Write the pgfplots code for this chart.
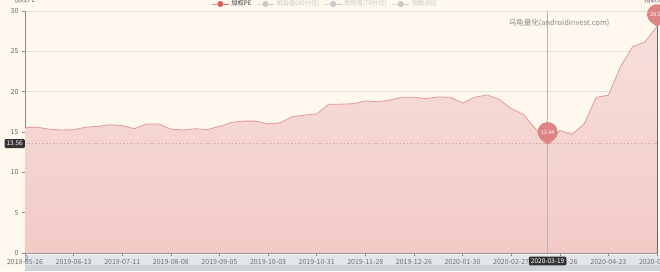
\documentclass[border=0pt]{standalone}
\usepackage{pgfplots}
\pgfplotsset{compat=1.18}
\usepackage{pgfplotstable}
\usepackage{fontspec}
\setmainfont{Noto Sans CJK SC}
\definecolor{bg}{HTML}{FEF8EE}
\definecolor{linec}{HTML}{E39A97}
\definecolor{areatop}{HTML}{F7DFDB}
\definecolor{areabot}{HTML}{F2CAC6}
\definecolor{gridc}{HTML}{E6E1D8}
\definecolor{labelc}{HTML}{6E6E6E}
\definecolor{axisc}{HTML}{8A8A8A}
\definecolor{pinc}{HTML}{DE8482}
\definecolor{dashc}{HTML}{D8A9A6}
\definecolor{boxc}{HTML}{333333}
\definecolor{crossc}{HTML}{B8B4AE}
\definecolor{legred}{HTML}{D9625E}
\definecolor{leggrey}{HTML}{C8C8C8}
\definecolor{zoombg}{HTML}{E2E5E9}
\definecolor{zoomdark}{HTML}{CFD3D8}
\definecolor{handle}{HTML}{A9C1E2}
\pgfdeclareplotmark{pin}{%
  \pgfpathmoveto{\pgfpointorigin}%
  \pgfpathlineto{\pgfpoint{-6pt}{4.5pt}}%
  \pgfpatharc{233.13}{-53.13}{10pt}%
  \pgfpathclose
  \pgfusepathqfill
}
\pgfplotstableread{
i pe
0 15.55
1 15.6
2 15.35
3 15.25
4 15.28
5 15.6
6 15.7
7 15.9
8 15.8
9 15.4
10 16.0
11 16.0
12 15.35
13 15.25
14 15.4
15 15.3
16 15.7
17 16.2
18 16.35
19 16.35
20 16.0
21 16.15
22 16.9
23 17.1
24 17.25
25 18.45
26 18.45
27 18.5
28 18.85
29 18.75
30 18.95
31 19.3
32 19.3
33 19.15
34 19.35
35 19.3
36 18.6
37 19.3
38 19.6
39 19.05
40 17.9
41 17.2
42 15.4
43 13.44
44 15.2
45 14.7
46 16.0
47 19.3
48 19.55
49 23.1
50 25.6
51 26.15
52 28.05
}\pe
\begin{document}
\begin{tikzpicture}[x=1pt,y=1pt]
\fill[bg] (0,0) rectangle (660,271);
\useasboundingbox (0,0) rectangle (660,271);
\fill[zoombg] (25,0) rectangle (660,16);
\fill[zoomdark] (25,0) rectangle (660,6);
\fill[handle] (25,9) rectangle (28,16);
\begin{axis}[
  at={(25pt,18pt)}, anchor=south west,
  width=632pt, height=242pt, scale only axis,
  xmin=0, xmax=52, ymin=0, ymax=30,
  clip=false,
  axis x line*=bottom, axis y line*=left,
  x axis line style={draw=axisc, line width=0.6pt, -},
  y axis line style={draw=axisc, line width=0.6pt, -},
  tick align=outside, major tick length=3pt,
  tick style={draw=axisc, line width=0.5pt},
  xtick={0,4,...,52},
  xticklabels={2019-05-16,2019-06-13,2019-07-11,2019-08-08,2019-09-05,2019-10-03,2019-10-31,2019-11-28,2019-12-26,2020-01-30,2020-02-27,2020-03-26,2020-04-23,2020-05-21},
  ytick={0,5,...,30},
  ymajorgrids, grid style={draw=gridc, line width=0.6pt},
  tick label style={font=\fontsize{7}{8}\selectfont, text=labelc},
  /pgf/number format/assume math mode=true,
  legend columns=4,
  legend style={at={(0.475,1)}, anchor=center, yshift=7pt, draw=none, fill=none,
    font=\fontsize{6.3}{7}\selectfont, inner sep=0pt,
    /tikz/every even column/.append style={column sep=3pt}},
]
\addplot[draw=none, top color=areatop, bottom color=areabot, forget plot] table[x=i,y=pe]{\pe} \closedcycle;
\addplot[dashc, line width=0.7pt, dash pattern=on 1.5pt off 2pt, forget plot] coordinates {(0,13.56) (52,13.56)};
\draw[crossc, line width=0.6pt] (axis cs:43,0) -- (axis cs:43,30);
\draw[black!60, line width=0.8pt] (axis cs:52,0) -- (axis cs:52,30);
\addplot[linec, line width=0.8pt, mark=none, forget plot] table[x=i,y=pe]{\pe};
\addlegendimage{legred, line width=0.8pt, mark=*, mark size=2.6pt}
\addlegendentry[text=boxc]{加权PE}
\addlegendimage{leggrey, line width=0.8pt, mark=*, mark size=2.6pt}
\addlegendentry[text=leggrey]{机会值(30分位)}
\addlegendimage{leggrey, line width=0.8pt, mark=*, mark size=2.6pt}
\addlegendentry[text=leggrey]{危险值(70分位)}
\addlegendimage{leggrey, line width=0.8pt, mark=*, mark size=2.6pt}
\addlegendentry[text=leggrey]{指数点位}
\addplot[only marks, mark=pin, color=pinc, forget plot,
  nodes near coords, point meta=y,
  nodes near coords style={anchor=center, yshift=12.5pt, text=white,
    font=\fontsize{5.5}{6}\selectfont,
    /pgf/number format/.cd, fixed, fixed zerofill, precision=2, assume math mode=true}]
  coordinates {(43,13.44) (52,28.05)};
\node[fill=boxc, text=white, font=\fontsize{6.5}{7}\selectfont, inner sep=2pt, anchor=east, rounded corners=1pt] at (axis cs:0,13.56) {13.56};
\node[fill=boxc, text=white, font=\fontsize{6.5}{7}\selectfont, inner sep=2pt, rounded corners=1pt, yshift=-8pt] at (axis cs:43,0) {2020-03-19};
\node[text=black!45, font=\fontsize{7.5}{8}\selectfont] at (axis cs:43.95,28.5) {乌龟量化(androidinvest.com)};
\node[text=labelc, font=\fontsize{6.5}{7}\selectfont, yshift=11pt] at (rel axis cs:0,1) {加权PE};
\node[text=labelc, font=\fontsize{6.5}{7}\selectfont, yshift=11pt] at (rel axis cs:1,1) {指数点位};
\end{axis}
\end{tikzpicture}
\end{document}
